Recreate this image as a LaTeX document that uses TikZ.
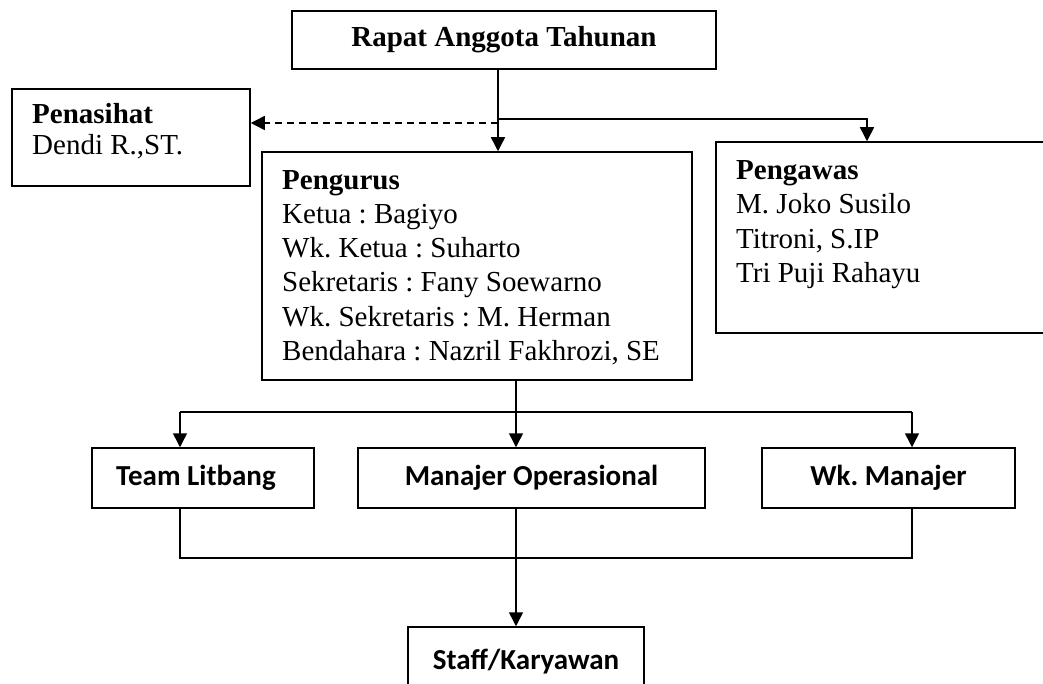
\documentclass[tikz,border=0pt]{standalone}
\usepackage{fontspec}
\setmainfont{Liberation Serif}
\newfontfamily\calfont{Carlito}
\usetikzlibrary{arrows.meta}
\frenchspacing
\begin{document}
\frenchspacing
\begin{tikzpicture}[x=1pt,y=-1pt,
  box/.style={draw, line width=1.5pt, inner sep=0pt},
  conn/.style={line width=1.5pt},
  arr/.style={conn, -{Triangle[width=14pt,length=14pt]}},
  dashline/.style={dash pattern=on 7pt off 5pt},
  ser/.style={font=\fontsize{29}{34.3}\selectfont},
  serb/.style={font=\fontsize{29}{34.3}\selectfont\bfseries},
  sanb/.style={font=\fontsize{29}{34}\selectfont\calfont\bfseries},
  lbl/.style={anchor=base west, align=left, inner sep=0pt, ser}
]
\useasboundingbox (0,0) rectangle (1043,684);
\clip (0,0) rectangle (1043,684);
\fill[white] (0,0) rectangle (1043,684);

% boxes
\node[box, serb, minimum width=424pt, minimum height=58pt] (rat) at (504,40) {Rapat Anggota Tahunan};
\node[box, minimum width=238pt, minimum height=97pt] (pen) at (131,137.5) {};
% base anchor of a multi-line node = baseline of its last line
\node[lbl, font=\fontsize{29}{31}\selectfont] (penT) at (32,155) {\textbf{Penasihat}\\Dendi R.,ST.};
\node[box, minimum width=430pt, minimum height=228pt] (pgr) at (477,266) {};
\node[lbl] (pgrT) at (282,360.5) {\textbf{Pengurus}\\Ketua : Bagiyo\\Wk. Ketua : Suharto\\Sekretaris : Fany Soewarno\\Wk. Sekretaris : M. Herman\\Bendahara : Nazril Fakhrozi, SE};
\node[box, minimum width=344pt, minimum height=191pt] (pgw) at (888,237.5) {};
\node[lbl] (pgwT) at (736,282.4) {\textbf{Pengawas}\\M. Joko Susilo\\Titroni, S.IP\\Tri Puji Rahayu};

\node[box, sanb, minimum width=222pt, minimum height=60pt] (team) at (203,478) {\hspace*{-14pt}Team Litbang};
\node[box, sanb, minimum width=347pt, minimum height=60pt] (mop) at (531.5,478) {Manajer Operasional};
\node[box, sanb, minimum width=253pt, minimum height=60pt] (wkm) at (888.5,478) {Wk.\ Manajer};
\node[box, sanb, minimum width=236pt, minimum height=70pt] (staff) at (526,662) {Staff/Karyawan};

% junctions
\coordinate (j1) at (498,119);
\coordinate (jr) at (867,119);
\coordinate (jd) at (498,123);
\coordinate (j2) at (516,412);
\coordinate (jl) at (180,412);
\coordinate (jw) at (912,412);
\coordinate (k1) at (180,558);
\coordinate (k2) at (912,558);
\coordinate (k3) at (516,558);

% connectors
\draw[arr] (rat.south -| j1) -- (j1 |- pgr.north);
\draw[arr] (j1) -- (jr) -- (jr |- pgw.north);
\draw[arr, dashline] (jd) -- (jd -| pen.east);
\draw[conn] (pgr.south -| j2) -- (j2);
\draw[conn] (jl) -- (jw);
\draw[arr] (jl) -- (jl |- team.north);
\draw[arr] (j2) -- (j2 |- mop.north);
\draw[arr] (jw) -- (jw |- wkm.north);
\draw[conn] (team.south -| k1) -- (k1) -- (k2) -- (wkm.south -| k2);
\draw[arr] (mop.south -| k3) -- (k3 |- staff.north);
\end{tikzpicture}
\end{document}
